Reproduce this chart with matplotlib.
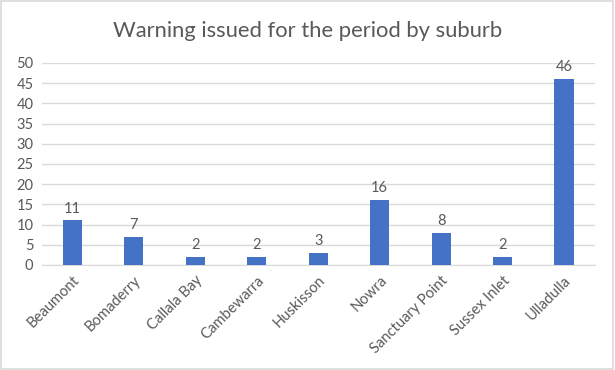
import matplotlib
matplotlib.use("Agg")
import matplotlib.pyplot as plt
from matplotlib.patches import Rectangle

categories = ["Beaumont", "Bomaderry", "Callala Bay", "Cambewarra", "Huskisson",
              "Nowra", "Sanctuary Point", "Sussex Inlet", "Ulladulla"]
values = [11, 7, 2, 2, 3, 16, 8, 2, 46]
yticks = [0, 5, 10, 15, 20, 25, 30, 35, 40, 45, 50]

plt.rcParams['font.family'] = ['Lato', 'DejaVu Sans']
txt = '#595959'

fig = plt.figure(figsize=(6.15, 3.7), dpi=100)
ax = fig.add_axes([0.068, 0.284, 0.899, 0.546])
x = range(len(categories))
bars = ax.bar(x, values, width=0.31, color='#4472C4', zorder=3)
for xi, v in zip(x, values):
    ax.text(xi, v + 1.2, str(v), ha='center', va='bottom', fontsize=10.5, color=txt)
ax.set_xlim(-0.5, len(categories) - 0.5)
ax.set_ylim(0, 50)
ax.set_yticks(yticks)
ax.set_yticklabels([str(t) for t in yticks], fontsize=10.5, color=txt)
ax.set_xticks(list(x))
ax.set_xticklabels(categories, rotation=45, ha='right', rotation_mode='anchor',
                   fontsize=10.6, color=txt)
ax.tick_params(length=0, pad=6)
ax.grid(axis='y', color='#D9D9D9', linewidth=1, zorder=0)
for s in ['top', 'right', 'left']:
    ax.spines[s].set_visible(False)
ax.spines['bottom'].set_color('#D9D9D9')
fig.text(0.5, 0.915, "Warning issued for the period by suburb", ha='center', va='center',
         fontsize=15.8, color=txt)
fig.patches.append(Rectangle((0.002, 0.003), 0.995, 0.993, transform=fig.transFigure,
                             fill=False, edgecolor='#D9D9D9', linewidth=1.2))
fig.savefig("out.png", dpi=100)
